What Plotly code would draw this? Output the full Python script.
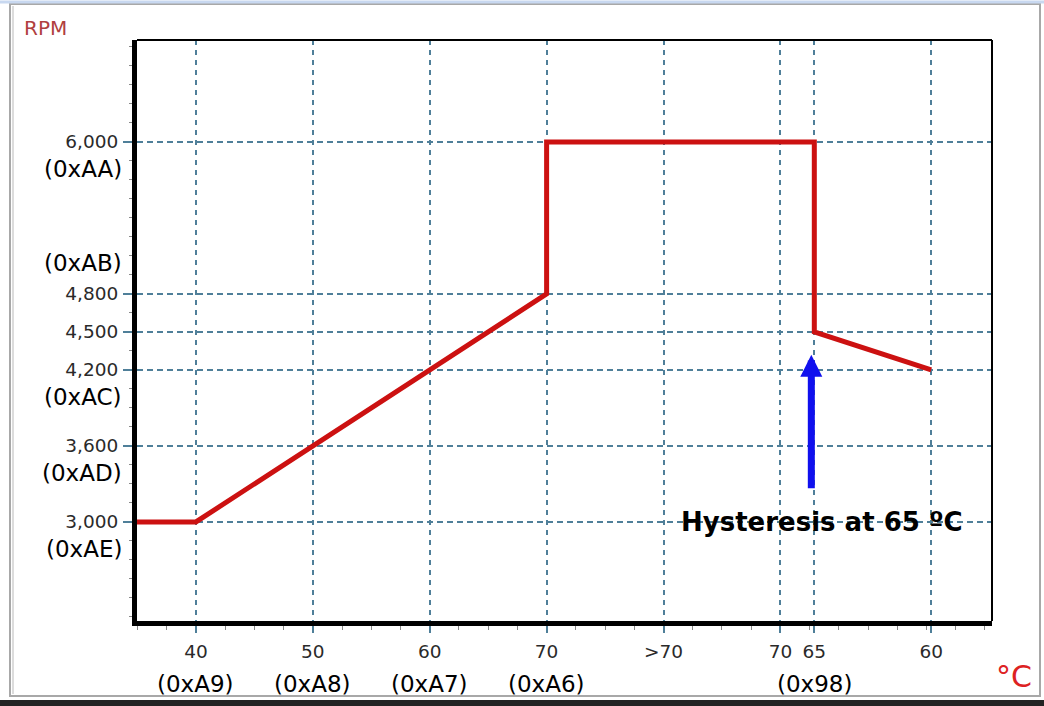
import plotly.graph_objects as go

# ---- data ----
x_tick_pos = [0, 1, 2, 3, 4, 5, 5.29, 6.29]
x_tick_labels = ["40", "50", "60", "70", ">70", "70", "65", "60"]
x_hex_labels = ["(0xA9)", "(0xA8)", "(0xA7)", "(0xA6)", "", "", "(0x98)", ""]

y_tick_vals = [3000, 3600, 4200, 4500, 4800, 6000]
y_hex_vals = [6000, 4800, 4200, 3600, 3000]
y_hex_labels = ["(0xAA)", "(0xAB)", "(0xAC)", "(0xAD)", "(0xAE)"]
y_hex_above = [False, True, False, False, False]

curve_x = [-0.504, 0, 3, 3, 5.29, 5.29, 6.29]
curve_rpm = [3000, 3000, 4800, 6000, 6000, 4500, 4200]

arrow_x = 5.29
arrow_tip_rpm = 4320
note_text = "Hysteresis at 65 ºC"
note_rpm = 3000

W, H = 1044, 706
ML, MR, MT, MB = 137, 52, 40, 85
PW, PH = W - ML - MR, H - MT - MB


def px(xp):
    return (xp - ML) / PW


def py(yp):
    return (H - MB - yp) / PH


grid_col = "#4f7f99"
font_fam = "DejaVu Sans"

fig = go.Figure()
fig.add_trace(go.Scatter(
    x=curve_x, y=curve_rpm, mode="lines",
    line=dict(color="#cc1111", width=5),
    showlegend=False, hoverinfo="skip", cliponaxis=False,
))

fig.update_xaxes(
    range=[-0.504, 6.81],
    tickvals=x_tick_pos, ticktext=x_tick_labels,
    showgrid=True, gridcolor=grid_col, gridwidth=1.5, griddash="5px,5px",
    zeroline=False,
    showline=True, linecolor="black", linewidth=5,
    ticks="outside", ticklen=7, tickwidth=1.5, tickcolor=grid_col,
    tickfont=dict(family=font_fam, size=18.5, color="#2a2a2a"),
    ticklabelstandoff=3,
    minor=dict(ticks="outside", ticklen=4, dtick=0.25, tick0=0,
               tickcolor="#888888", tickwidth=1, showgrid=False),
)
fig.update_yaxes(
    range=[2218, 6805],
    tickvals=y_tick_vals, tickformat=",",
    showgrid=True, gridcolor=grid_col, gridwidth=1.5, griddash="6px,4px",
    zeroline=False,
    showline=True, linecolor="black", linewidth=5,
    ticks="outside", ticklen=9, tickwidth=1.5, tickcolor=grid_col,
    tickfont=dict(family=font_fam, size=18.5, color="#2a2a2a"),
    ticklabelstandoff=1,
    minor=dict(ticks="outside", ticklen=3, dtick=150, tick0=3000,
               tickcolor="#888888", tickwidth=1, showgrid=False),
)

ann = []
for xp, lab in zip(x_tick_pos, x_hex_labels):
    if lab:
        ann.append(dict(x=xp, y=0, xref="x", yref="paper", text=lab,
                        showarrow=False, xanchor="center", yanchor="middle",
                        yshift=-(684 - (H - MB)),
                        font=dict(family=font_fam, size=23, color="black")))
for yv, lab, above in zip(y_hex_vals, y_hex_labels, y_hex_above):
    ann.append(dict(x=0, y=yv, xref="paper", yref="y", text=lab,
                    showarrow=False, xanchor="right", yanchor="middle",
                    xshift=-13, yshift=31 if above else -27,
                    font=dict(family=font_fam, size=23, color="black")))
ann.append(dict(x=arrow_x, y=arrow_tip_rpm, xref="x", yref="y", text="",
                showarrow=True, ax=0, ay=135, arrowhead=2, arrowsize=0.63,
                arrowwidth=7, arrowcolor="#1010ee", standoff=0, xshift=-3))
ann.append(dict(x=arrow_x, y=note_rpm, xref="x", yref="y", text=note_text,
                showarrow=False, xanchor="center", yanchor="middle", xshift=8,
                font=dict(family=font_fam, size=26, color="black", weight="bold")))
ann.append(dict(x=0, y=1, xref="paper", yref="paper", text="RPM",
                showarrow=False, xanchor="left", yanchor="middle",
                xshift=22 - ML, yshift=MT - 28,
                font=dict(family=font_fam, size=20, color="#b04040")))
ann.append(dict(x=1, y=0, xref="paper", yref="paper", text="°C",
                showarrow=False, xanchor="center", yanchor="middle",
                xshift=1014 - (W - MR), yshift=(H - MB) - 676,
                font=dict(family=font_fam, size=30, color="#dd2222")))

shapes = [
    # top and right plot border (thin)
    dict(type="line", xref="paper", yref="paper", x0=0, x1=1, y0=1, y1=1,
         line=dict(color="black", width=2)),
    dict(type="line", xref="paper", yref="paper", x0=1, x1=1, y0=0, y1=1,
         line=dict(color="black", width=2)),
    # window frame
    dict(type="rect", xref="paper", yref="paper", x0=px(10), x1=px(1040),
         y0=py(696), y1=py(4), line=dict(color="#a8a8a8", width=2)),
    dict(type="line", xref="paper", yref="paper", x0=px(13), x1=px(13),
         y0=py(694), y1=py(6), line=dict(color="#d0d0d0", width=1.5)),
    dict(type="line", xref="paper", yref="paper", x0=px(0), x1=px(1044),
         y0=py(703), y1=py(703), line=dict(color="#222222", width=6)),
    dict(type="line", xref="paper", yref="paper", x0=px(0), x1=px(1044),
         y0=py(2), y1=py(2), line=dict(color="#c8d8f0", width=3)),
]

fig.update_layout(
    width=W, height=H,
    margin=dict(l=ML, r=MR, t=MT, b=MB),
    paper_bgcolor="white", plot_bgcolor="white",
    annotations=ann, shapes=shapes, showlegend=False,
)

fig.write_html("out.html",
               config={"displayModeBar": False},
               post_script="document.body.style.margin='0';"
                           "document.body.style.overflow='hidden';")
